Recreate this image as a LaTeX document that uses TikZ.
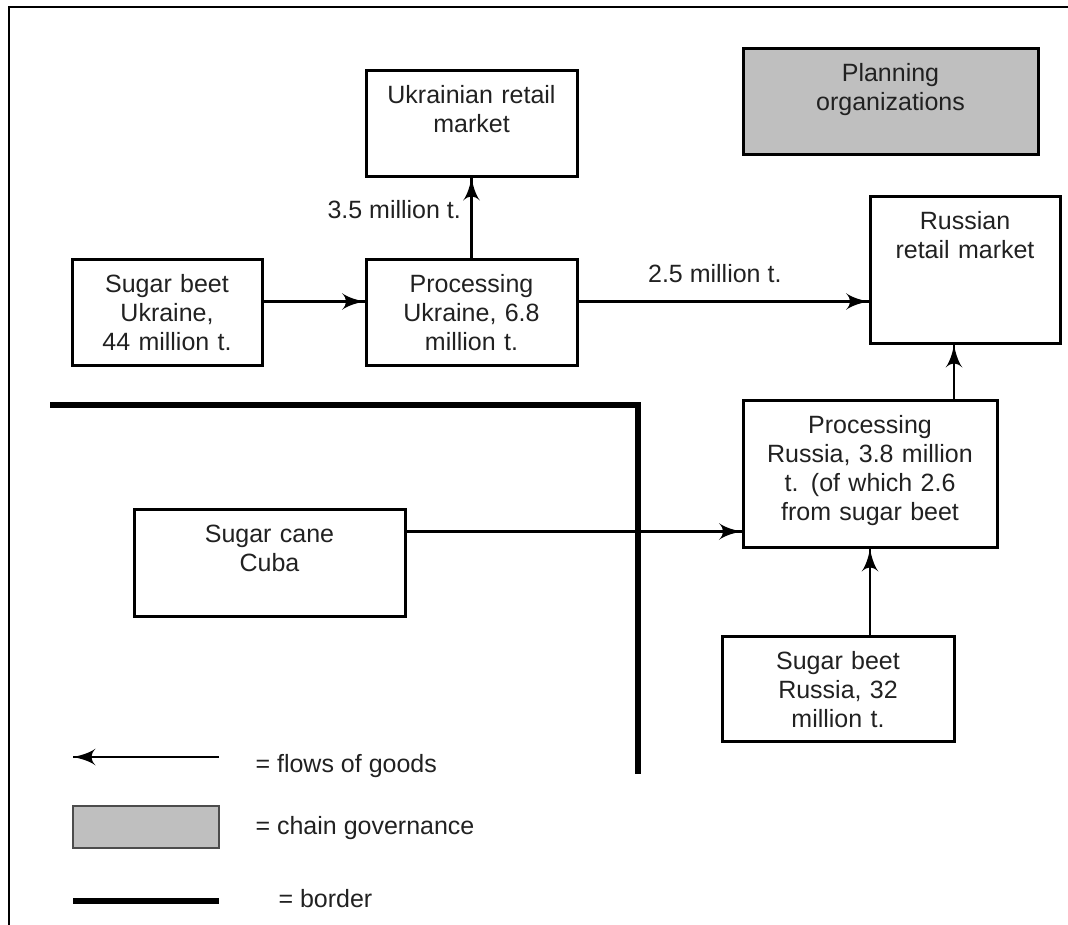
\documentclass[tikz,border=0pt]{standalone}
\usepackage{fontspec}
\setmainfont{Liberation Sans}
\usetikzlibrary{arrows}
\usetikzlibrary{decorations.markings}
\tikzset{flow/.style = {line width=2.5pt,
                        decoration={markings,
                                    mark=at position 1 with {\arrow[scale=2.2]{latex'}}},
                        postaction={decorate}}}
\tikzset{box/.style = {draw, line width=3pt, inner sep=0pt, align=center,
                       anchor=north, text height=33pt}}
\definecolor{govgray}{rgb}{0.75, 0.75, 0.75}
\definecolor{inkgray}{rgb}{0.13, 0.13, 0.13}

\begin{document}
\begin{tikzpicture}[x=1pt, y=-1pt, font=\fontsize{25}{29}\selectfont, text=inkgray]
      \useasboundingbox (0, 0) rectangle (1068, 925);
      \draw [line width=2.2pt] (9, 925) -- (9, 7) -- (1068, 7);
      % chain
      \node [box, text width=211pt, text depth=73pt] (ukrmarket) at (471.5, 69) {Ukrainian retail\\market};
      \node [box, fill=govgray, text width=295pt, text depth=73pt] (planorg) at (890.5, 47) {Planning\\organizations};
      \node [box, text width=190pt, text depth=73pt] (beetukr) at (167, 258) {Sugar beet\\Ukraine,\\44 million t.};
      \node [box, text width=211pt, text depth=73pt] (procukr) at (471.5, 258) {Processing\\Ukraine, 6.8\\million t.};
      \node [box, text width=190pt, text depth=114pt] (rusmarket) at (965, 195) {Russian\\retail market};
      \node [box, text width=254pt, text depth=114pt] (procrus) at (870, 399) {Processing\\Russia, 3.8 million\\t. (of which 2.6\\from sugar beet};
      \node [box, text width=271pt, text depth=74pt] (canecuba) at (269.5, 508) {Sugar cane\\Cuba};
      \node [box, text width=232pt, text depth=72pt] (beetrus) at (838, 635) {Sugar beet\\Russia, 32\\million t.};
      \draw [flow] ([yshift=11pt]beetukr.east) -- ([yshift=11pt]procukr.west);
      \draw [flow] (procukr.north) -- node [pos=0.6, left=6pt] {3.5 million t.} (ukrmarket.south);
      \draw [flow] ([yshift=11pt]procukr.east) -- node [pos=0.47, above=14pt] {2.5 million t.} ([yshift=11pt]procukr.east -| rusmarket.west);
      \draw [flow] ([xshift=84pt]procrus.north) -- ([xshift=84pt]procrus.north |- rusmarket.south);
      \draw [flow] ([yshift=31.5pt]canecuba.east) -- ([yshift=31.5pt]canecuba.east -| procrus.west);
      \draw [flow] (beetrus.north -| procrus.south) -- (procrus.south);
      \draw [line width=5.5pt] (50, 405) -- (638, 405) -- (638, 774);
      % legend
      \coordinate (flowstart) at (219, 757);
      \coordinate (flowend) at (73, 757);
      \draw [flow] (flowstart) -- (flowend);
      \node [anchor=west] (flowtext) at (252, 766) {= flows of goods};
      \node [draw=black!70, fill=govgray, line width=1.2pt, minimum width=146pt, minimum height=42pt, inner sep=0pt] (govsample) at (146, 827) {};
      \node [anchor=west] (govtext) at (252, 828) {= chain governance};
      \coordinate (borderstart) at (73, 901);
      \coordinate (borderend) at (219, 901);
      \draw [line width=5.5pt] (borderstart) -- (borderend);
      \node [anchor=west] (bordertext) at (275, 899) {= border};
    \end{tikzpicture}
\end{document}
